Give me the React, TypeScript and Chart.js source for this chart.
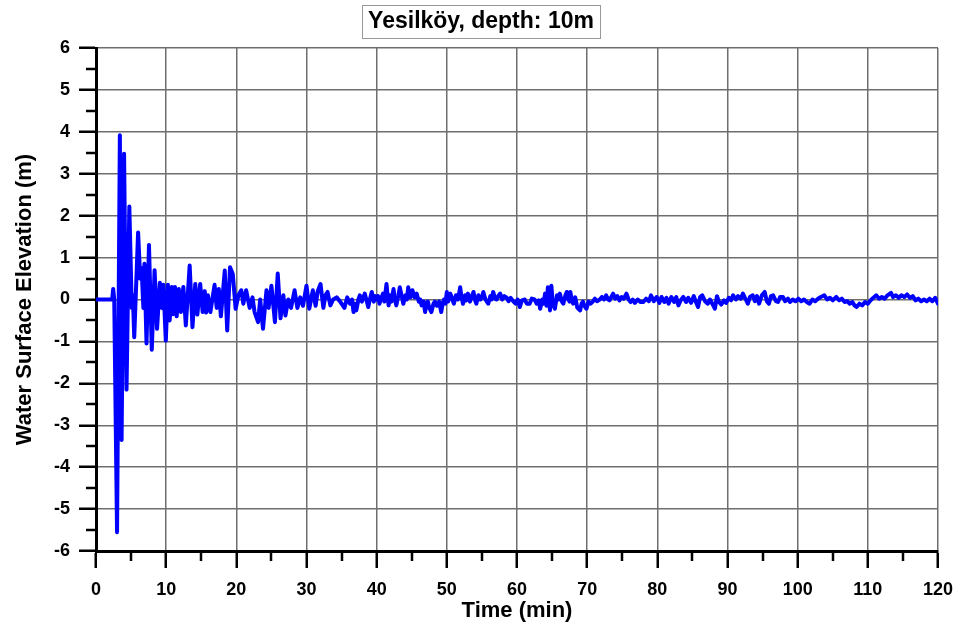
import React, { useEffect, useRef } from "react";
import { Chart, registerables } from "chart.js";

Chart.register(...registerables);

const chartTitle = "Yesilköy, depth: 10m";
const xTitle = "Time (min)";
const yTitle = "Water Surface Elevation (m)";

const xTicks = [0, 10, 20, 30, 40, 50, 60, 70, 80, 90, 100, 110, 120];
const yTicks = [-6, -5, -4, -3, -2, -1, 0, 1, 2, 3, 4, 5, 6];

// time (min)
const timeMin = [
  0, 2.3, 2.45, 2.6, 3.0, 3.4, 3.65, 4.0, 4.35, 4.75, 5.1, 5.25, 5.45, 6.0, 6.3, 6.5, 6.75, 6.9, 7.2, 7.55,
  7.95, 8.35, 8.7, 9.1, 9.4, 9.6, 9.95, 10.25, 10.5, 10.8, 11.0, 11.25, 11.5, 11.8, 12.1, 12.45, 12.8, 13.35, 13.75, 14.15,
  14.45, 14.85, 15.2, 15.5, 15.7, 15.95, 16.3, 16.9, 17.2, 17.5, 17.8, 18.35, 18.7, 19.1, 19.5, 19.9, 20.3, 20.7, 21.0, 21.4,
  21.9, 22.3, 22.6, 23.1, 23.4, 23.8, 24.3, 24.6, 25.0, 25.5, 25.9, 26.3, 26.7, 27.0, 27.4, 27.8, 28.3, 28.7, 29.1, 29.5,
  30.0, 30.4, 30.9, 31.3, 31.6, 32.0, 32.4, 32.7, 33.0, 33.4, 33.8, 34.3, 34.8, 35.4, 35.8, 36.2, 36.5, 36.7, 36.9, 37.1,
  37.4, 37.6, 37.9, 38.1, 38.3, 38.6, 38.8, 39.1, 39.3, 39.6, 39.8, 40.0, 40.2, 40.4, 40.7, 40.9, 41.1, 41.4, 41.7, 41.9,
  42.1, 42.4, 42.6, 42.8, 43.1, 43.3, 43.6, 43.8, 44.1, 44.3, 44.5, 44.8, 45.1, 45.4, 45.7, 46.0, 46.2, 46.4, 46.7, 46.9,
  47.1, 47.3, 47.5, 47.8, 48.1, 48.3, 48.6, 48.9, 49.2, 49.4, 49.6, 49.8, 50.0, 50.2, 50.5, 50.8, 51.0, 51.3, 51.6, 51.9,
  52.1, 52.3, 52.6, 52.8, 53.0, 53.3, 53.5, 53.8, 54.0, 54.2, 54.5, 54.8, 55.0, 55.2, 55.5, 55.9, 56.2, 56.4, 56.6, 56.9,
  57.1, 57.4, 57.6, 57.9, 58.2, 58.5, 58.8, 59.1, 59.5, 59.8, 60.1, 60.4, 60.7, 61.1, 61.4, 61.8, 62.1, 62.5, 62.8, 63.1,
  63.3, 63.6, 63.8, 64.0, 64.2, 64.4, 64.7, 64.9, 65.1, 65.4, 65.7, 65.9, 66.1, 66.4, 66.6, 66.9, 67.1, 67.3, 67.5, 67.6,
  67.8, 68.0, 68.3, 68.6, 69.0, 69.2, 69.4, 69.6, 69.9, 70.2, 70.5, 70.8, 71.1, 71.4, 71.8, 72.1, 72.4, 72.7, 73.0, 73.2,
  73.5, 73.7, 74.0, 74.3, 74.6, 74.9, 75.2, 75.6, 75.9, 76.2, 76.5, 76.8, 77.2, 77.6, 78.0, 78.4, 78.8, 79.1, 79.5, 79.9,
  80.3, 80.6, 81.0, 81.3, 81.6, 82.0, 82.4, 82.7, 83.0, 83.4, 83.7, 84.1, 84.4, 84.8, 85.2, 85.5, 85.8, 86.1, 86.4, 86.8,
  87.2, 87.5, 87.9, 88.2, 88.5, 88.8, 89.1, 89.5, 89.8, 90.2, 90.5, 90.8, 91.2, 91.5, 91.9, 92.2, 92.6, 92.9, 93.2, 93.6,
  93.9, 94.2, 94.5, 94.9, 95.3, 95.6, 95.9, 96.2, 96.5, 96.9, 97.2, 97.5, 97.9, 98.2, 98.6, 98.9, 99.3, 99.7, 100.1, 100.5,
  100.9, 101.3, 101.7, 102.1, 102.5, 102.9, 103.3, 103.8, 104.2, 104.6, 105.0, 105.5, 105.9, 106.3, 106.7, 107.1, 107.4, 107.8, 108.1, 108.4,
  108.8, 109.2, 109.6, 110.0, 110.4, 110.8, 111.2, 111.6, 112.0, 112.4, 112.8, 113.3, 113.6, 114.0, 114.4, 114.8, 115.2, 115.6, 116.0, 116.4,
  116.8, 117.2, 117.6, 118.0, 118.4, 118.8, 119.2, 119.6, 120.0,
];

// water surface elevation (m)
const elevationM = [
  0, 0, 0.25, 0.0, -5.55, 3.92, -3.35, 3.48, -2.15, 2.22, -0.2, 0.1, -0.9, 1.6, 0.5, 0.75, -0.2, 0.85, -1.05, 1.3,
  -1.2, 0.7, -0.7, 0.4, -0.2, 0.35, -0.98, 0.35, -0.5, 0.3, -0.35, 0.3, -0.4, 0.25, -0.3, 0.3, -0.62, 0.81, -0.66, 0.37,
  -0.36, 0.37, -0.3, 0.2, -0.31, 0.1, -0.3, 0.35, -0.2, 0.25, -0.4, 0.69, -0.74, 0.77, 0.6, -0.22, 0.1, 0.22, -0.1, 0.22,
  -0.2, 0.05, -0.3, -0.54, 0.0, -0.7, 0.22, -0.2, 0.33, -0.54, 0.62, -0.45, 0.1, -0.38, 0.0, -0.2, 0.22, -0.2, 0.05, -0.15,
  0.33, -0.22, 0.22, -0.15, 0.2, 0.37, -0.2, 0.1, 0.18, -0.14, 0.0, 0.05, -0.05, -0.2, 0.05, -0.1, 0.0, -0.3, -0.1, -0.26,
  0.0, 0.1, -0.05, 0.05, 0.14, -0.05, -0.18, 0.05, 0.18, -0.05, 0.08, 0.0, 0.08, -0.1, 0.05, 0.14, -0.05, 0.37, -0.14, 0.1,
  -0.05, 0.25, 0.0, -0.14, 0.1, 0.29, 0.05, -0.1, 0.1, 0.0, 0.29, 0.05, 0.22, 0.05, 0.14, -0.05, 0.0, -0.14, -0.05, -0.3,
  -0.1, -0.05, -0.2, -0.3, -0.1, -0.05, -0.15, -0.05, -0.3, -0.1, 0.0, -0.1, 0.18, -0.05, 0.14, 0.0, -0.1, 0.1, 0.0, 0.29,
  0.05, -0.1, 0.1, -0.02, 0.14, -0.05, 0.05, 0.18, 0.0, -0.1, 0.1, 0.0, 0.06, 0.18, 0.0, -0.1, 0.08, 0.0, 0.18, 0.02,
  0.0, 0.1, 0.14, 0.0, 0.08, 0.05, -0.04, 0.04, -0.05, -0.1, 0.0, -0.18, -0.02, 0.0, -0.1, -0.1, 0.02, 0.0, -0.1, -0.02,
  -0.22, 0.0, -0.1, 0.14, -0.15, 0.29, -0.26, 0.33, -0.1, -0.22, 0.1, 0.0, 0.14, -0.05, -0.1, 0.1, 0.18, 0.0, -0.05, 0.18,
  0.0, -0.1, 0.05, -0.2, -0.26, -0.1, -0.05, -0.15, -0.22, -0.05, -0.1, -0.05, 0.02, -0.04, 0.0, 0.06, 0.0, 0.1, 0.0, -0.02,
  0.08, 0.14, 0.02, 0.08, -0.02, 0.06, 0.02, 0.14, 0.0, -0.06, 0.0, -0.08, 0.0, -0.06, -0.06, 0.02, -0.04, 0.1, -0.04, 0.06,
  -0.08, 0.06, -0.06, 0.04, -0.1, 0.06, -0.06, 0.06, -0.14, 0.0, 0.06, -0.06, 0.04, -0.08, 0.08, -0.06, -0.18, 0.06, 0.1, -0.04,
  -0.1, 0.0, -0.12, -0.22, 0.08, -0.06, -0.12, -0.02, -0.08, 0.04, -0.02, 0.1, 0.0, 0.08, 0.02, 0.14, 0.0, -0.1, 0.06, 0.1,
  -0.04, 0.08, -0.1, 0.1, 0.18, -0.04, -0.1, 0.08, 0.1, -0.04, -0.06, 0.06, 0.06, -0.04, 0.02, -0.06, 0.0, -0.04, 0.02, -0.04,
  0.0, -0.06, -0.1, 0.0, -0.04, 0.02, 0.06, 0.1, 0.0, 0.04, -0.02, 0.06, -0.02, 0.02, -0.06, -0.04, -0.1, -0.06, -0.14, -0.18,
  -0.1, -0.14, -0.06, -0.1, -0.02, 0.04, 0.1, 0.02, 0.06, 0.02, 0.1, 0.16, 0.06, 0.1, 0.04, 0.1, 0.06, 0.12, 0.04, 0.08,
  -0.02, 0.02, -0.04, 0.0, -0.04, 0.02, -0.04, 0.04, -0.1,
];

const FONT = "'Liberation Sans', Arial, sans-serif";

const minorTicksPlugin = {
  id: "minorTicks",
  afterDraw(chart: any) {
    const { ctx, scales } = chart;
    const xs = scales.x;
    const ys = scales.y;
    ctx.save();
    ctx.strokeStyle = "#000";
    ctx.lineWidth = 2.5;
    ctx.beginPath();
    for (let i = 0; i < yTicks.length - 1; i++) {
      const v = (yTicks[i] + yTicks[i + 1]) / 2;
      const py = Math.round(ys.getPixelForValue(v));
      ctx.moveTo(xs.left - 10, py);
      ctx.lineTo(xs.left, py);
    }
    for (let i = 0; i < xTicks.length - 1; i++) {
      const v = (xTicks[i] + xTicks[i + 1]) / 2;
      const px = Math.round(xs.getPixelForValue(v));
      ctx.moveTo(px, ys.bottom);
      ctx.lineTo(px, ys.bottom + 10);
    }
    ctx.stroke();
    ctx.restore();
  },
};

const titleBoxPlugin = {
  id: "titleBox",
  afterDraw(chart: any) {
    const { ctx } = chart;
    ctx.save();
    ctx.font = `bold 23px ${FONT}`;
    ctx.textAlign = "center";
    ctx.textBaseline = "middle";
    const cx = chart.width / 2;
    const cy = 22;
    const w = ctx.measureText(chartTitle).width;
    ctx.strokeStyle = "#999";
    ctx.lineWidth = 1;
    ctx.strokeRect(Math.round(cx - w / 2 - 6) + 0.5, 5.5, Math.round(w + 12), 33);
    ctx.fillStyle = "#000";
    ctx.fillText(chartTitle, cx, cy);
    ctx.restore();
  },
};

export default function App() {
  const canvasRef = useRef<HTMLCanvasElement | null>(null);

  useEffect(() => {
    if (!canvasRef.current) return;
    const points = timeMin.map((t, i) => ({ x: t, y: elevationM[i] }));
    const chart = new Chart(canvasRef.current, {
      type: "line",
      data: {
        datasets: [
          {
            data: points,
            borderColor: "#0000ff",
            backgroundColor: "#0000ff",
            borderWidth: 4,
            pointRadius: 0,
            tension: 0,
            borderJoinStyle: "round",
            borderCapStyle: "round",
            fill: false,
          },
        ],
      },
      options: {
        animation: false,
        responsive: false,
        devicePixelRatio: 1,
        layout: { padding: { top: 48, right: 24, left: 0, bottom: 0 } },
        plugins: {
          legend: { display: false },
          tooltip: { enabled: false },
          title: { display: false },
        },
        scales: {
          x: {
            type: "linear",
            min: 0,
            max: 120,
            afterFit: (s: any) => {
              s.height = 80;
              s.paddingRight = 0;
              s.paddingLeft = 0;
            },
            afterBuildTicks: (s: any) => {
              s.ticks = xTicks.map((v) => ({ value: v }));
            },
            ticks: {
              color: "#000",
              font: { family: FONT, size: 18, weight: "bold" },
              padding: 11,
              maxRotation: 0,
              autoSkip: false,
            },
            grid: {
              color: "#6e6e6e",
              lineWidth: 1.5,
              tickColor: "#000",
              tickWidth: 2.5,
              tickLength: 17,
            },
            border: { color: "#000", width: 3 },
            title: {
              display: true,
              text: xTitle,
              color: "#000",
              font: { family: FONT, size: 22, weight: "bold" },
              padding: { top: 0, bottom: 7 },
            },
          },
          y: {
            type: "linear",
            min: -6,
            max: 6,
            afterFit: (s: any) => {
              s.width = 96;
            },
            afterBuildTicks: (s: any) => {
              s.ticks = yTicks.map((v) => ({ value: v }));
            },
            ticks: {
              color: "#000",
              font: { family: FONT, size: 18, weight: "bold" },
              padding: 9,
              autoSkip: false,
            },
            grid: {
              color: "#6e6e6e",
              lineWidth: 1.5,
              tickColor: "#000",
              tickWidth: 2.5,
              tickLength: 17,
            },
            border: { color: "#000", width: 3 },
            title: {
              display: true,
              text: yTitle,
              color: "#000",
              font: { family: FONT, size: 22, weight: "bold" },
              padding: { top: 12, bottom: 0 },
            },
          },
        },
      },
      plugins: [minorTicksPlugin, titleBoxPlugin],
    });
    return () => chart.destroy();
  }, []);

  return (
    <div style={{ position: "absolute", left: 0, top: 0, width: 962, height: 631, background: "#fff" }}>
      <canvas ref={canvasRef} width={962} height={631} style={{ width: 962, height: 631 }} />
    </div>
  );
}
